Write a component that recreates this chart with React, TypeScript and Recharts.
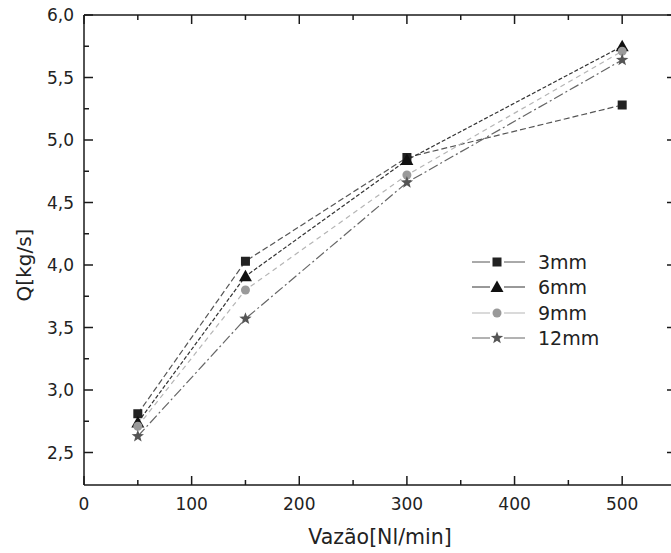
import { LineChart, Line, XAxis, YAxis, Legend } from 'recharts'

const vazao = [50, 150, 300, 500]
const q3mm = [2.81, 4.03, 4.86, 5.28]
const q6mm = [2.74, 3.91, 4.84, 5.75]
const q9mm = [2.71, 3.8, 4.72, 5.71]
const q12mm = [2.63, 3.57, 4.66, 5.64]

const xTicks = [0, 50, 100, 150, 200, 250, 300, 350, 400, 450, 500, 550]
const yTicks = [2.5, 2.75, 3.0, 3.25, 3.5, 3.75, 4.0, 4.25, 4.5, 4.75, 5.0, 5.25, 5.5, 5.75, 6.0]

const data = vazao.map((v, i) => ({
  vazao: v,
  s3: q3mm[i],
  s6: q6mm[i],
  s9: q9mm[i],
  s12: q12mm[i]
}))

const FONT = '"DejaVu Sans", Arial, sans-serif'
const AXIS = '#1a1a1a'

const fmtY = (v: number) => v.toFixed(1).replace('.', ',')

const Square = ({ cx, cy, fill }: any) => (
  <rect x={cx - 4.5} y={cy - 4.5} width={9} height={9} fill={fill} />
)
const Triangle = ({ cx, cy, fill }: any) => (
  <polygon points={`${cx},${cy - 6.5} ${cx + 6.5},${cy + 5} ${cx - 6.5},${cy + 5}`} fill={fill} />
)
const Circle = ({ cx, cy, fill }: any) => <circle cx={cx} cy={cy} r={4.5} fill={fill} />
const Star = ({ cx, cy, fill }: any) => {
  const pts: string[] = []
  for (let k = 0; k < 10; k++) {
    const r = k % 2 === 0 ? 6.5 : 2.7
    const a = -Math.PI / 2 + (k * Math.PI) / 5
    pts.push(`${cx + r * Math.cos(a)},${cy + r * Math.sin(a)}`)
  }
  return <polygon points={pts.join(' ')} fill={fill} />
}

const series = [
  { key: 's3', name: '3mm', stroke: '#555', dash: '6 3', fill: '#222', Marker: Square },
  { key: 's6', name: '6mm', stroke: '#333', dash: '4 2', fill: '#111', Marker: Triangle },
  { key: 's9', name: '9mm', stroke: '#b5b5b5', dash: '5 4', fill: '#9a9a9a', Marker: Circle },
  { key: 's12', name: '12mm', stroke: '#666', dash: '10 3 2 3', fill: '#555', Marker: Star }
]

const LeftTick = (props: any) => {
  const { x, y, payload } = props
  const ax = x + 10
  const major = Math.abs(payload.value * 2 - Math.round(payload.value * 2)) < 1e-6
  return (
    <g>
      <line x1={ax} x2={ax + (major ? 9 : 5)} y1={y} y2={y} stroke={AXIS} strokeWidth={1.5} />
      {major && (
        <text x={x} y={y} textAnchor="end" dominantBaseline="central" fontSize={17} fontFamily={FONT} fill="#222">
          {fmtY(payload.value)}
        </text>
      )}
    </g>
  )
}

const RightTick = (props: any) => {
  const { x, y, payload } = props
  const major = Math.abs(payload.value * 2 - Math.round(payload.value * 2)) < 1e-6
  return <line x1={x} x2={x - (major ? 9 : 5)} y1={y} y2={y} stroke={AXIS} strokeWidth={1.5} />
}

const BottomTick = (props: any) => {
  const { x, y, payload } = props
  const ay = y - 12
  const major = payload.value % 100 === 0
  return (
    <g>
      <line x1={x} x2={x} y1={ay} y2={ay - (major ? 9 : 5)} stroke={AXIS} strokeWidth={1.5} />
      {major && (
        <text x={x} y={ay + 25} textAnchor="middle" fontSize={17} fontFamily={FONT} fill="#222">
          {payload.value}
        </text>
      )}
    </g>
  )
}

const TopTick = (props: any) => {
  const { x, y, payload } = props
  const major = payload.value % 100 === 0
  return <line x1={x} x2={x} y1={y} y2={y + (major ? 9 : 5)} stroke={AXIS} strokeWidth={1.5} />
}

const LegendBox = () => (
  <div style={{ fontFamily: FONT, fontSize: 19, color: '#222' }}>
    {series.map((s) => (
      <div key={s.key} style={{ display: 'flex', alignItems: 'center', height: 25.5 }}>
        <svg width={62} height={20} style={{ marginRight: 6 }}>
          <line x1={2} x2={20} y1={10} y2={10} stroke={s.stroke} strokeWidth={1} />
          <line x1={34} x2={55} y1={10} y2={10} stroke={s.stroke} strokeWidth={1} />
          <s.Marker cx={27} cy={10} fill={s.fill} />
        </svg>
        <span>{s.name}</span>
      </div>
    ))}
  </div>
)

export default function App() {
  return (
    <div
      style={{
        position: 'absolute',
        left: 0,
        top: 0,
        width: 671,
        height: 553,
        overflow: 'hidden',
        background: '#fff'
      }}
    >
      <LineChart width={680} height={553} data={data} margin={{ top: 14, right: 0, bottom: 0, left: 0 }}>
        <XAxis
          dataKey="vazao"
          type="number"
          domain={[0, 550]}
          ticks={xTicks}
          interval={0}
          height={68}
          tickSize={0}
          tickMargin={12}
          tickLine={false}
          axisLine={{ stroke: AXIS, strokeWidth: 1.5 }}
          tick={<BottomTick />}
        />
        <XAxis
          xAxisId="top"
          orientation="top"
          dataKey="vazao"
          type="number"
          domain={[0, 550]}
          ticks={xTicks}
          interval={0}
          height={1}
          tickSize={0}
          tickMargin={0}
          tickLine={false}
          axisLine={{ stroke: AXIS, strokeWidth: 1.5 }}
          tick={<TopTick />}
        />
        <YAxis
          type="number"
          domain={[2.24, 6.0]}
          ticks={yTicks}
          interval={0}
          width={84}
          tickSize={0}
          tickMargin={10}
          tickLine={false}
          axisLine={{ stroke: AXIS, strokeWidth: 1.5 }}
          tick={<LeftTick />}
          allowDataOverflow
        />
        <YAxis
          yAxisId="right"
          orientation="right"
          type="number"
          domain={[2.24, 6.0]}
          ticks={yTicks}
          interval={0}
          width={4}
          tickSize={0}
          tickMargin={0}
          tickLine={false}
          axisLine={{ stroke: AXIS, strokeWidth: 1.5 }}
          tick={<RightTick />}
          allowDataOverflow
        />
        <text
          x={380}
          y={544}
          textAnchor="middle"
          fontSize={20.5}
          fontFamily={FONT}
          fill="#222"
        >
          Vazão[Nl/min]
        </text>
        <text
          x={31}
          y={265}
          transform="rotate(-90 31 265)"
          textAnchor="middle"
          fontSize={20}
          fontFamily={FONT}
          fill="#222"
        >
          Q[kg/s]
        </text>
        {series.map((s) => (
          <Line
            key={s.key}
            dataKey={s.key}
            name={s.name}
            stroke={s.stroke}
            strokeWidth={1.2}
            strokeDasharray={s.dash}
            dot={(p: any) => <s.Marker key={`${s.key}-${p.index}`} cx={p.cx} cy={p.cy} fill={s.fill} />}
            isAnimationActive={false}
          />
        ))}
        <Legend
          content={<LegendBox />}
          layout="vertical"
          align="center"
          verticalAlign="middle"
          wrapperStyle={{ position: 'absolute', left: 470, top: 249, width: 150 }}
        />
      </LineChart>
    </div>
  )
}
